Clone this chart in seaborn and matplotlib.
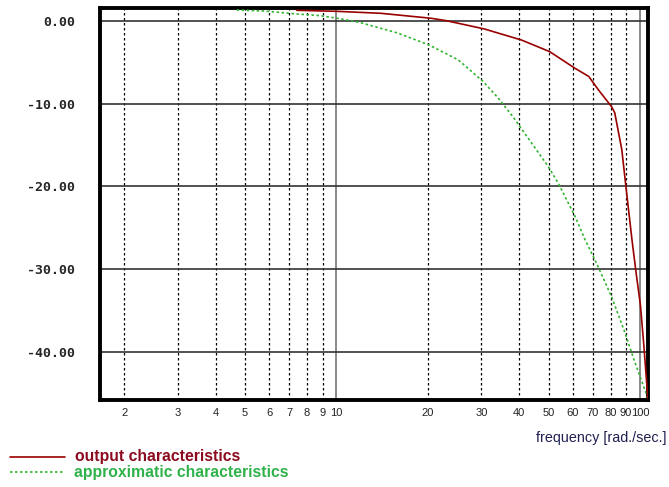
import numpy as np
import pandas as pd
import matplotlib
matplotlib.use("Agg")
import matplotlib.pyplot as plt
from matplotlib.lines import Line2D
from matplotlib.ticker import FixedLocator, FixedFormatter, NullLocator
import seaborn as sns

# Frequency response samples [rad/s] and gain [dB]
output_freq = [7.4, 10.0, 14.0, 20.5, 23.0, 30.7, 40.7, 50.4, 61.0, 67.8, 72.9,
               80.8, 82.6, 87.1, 89.9, 94.1, 97.1, 100.4, 103.0, 106.2]
output_db = [1.29, 1.17, 0.93, 0.33, 0.04, -0.96, -2.3, -3.7, -5.7, -6.7, -8.3,
             -10.4, -11.1, -15.5, -20.0, -26.4, -30.4, -34.4, -39.2, -45.6]

approx_freq = [4.69, 5.82, 7.21, 8.01, 8.85, 10.05, 10.85, 12.0, 15.9, 20.2, 25.2,
               30.4, 34.1, 38.2, 49.9, 53.8, 61.1, 65.9, 72.2, 80.8, 89.1, 95.3, 106.2]
approx_db = [1.33, 1.2, 0.88, 0.76, 0.64, 0.33, 0.12, -0.2, -1.45, -2.9, -4.7,
             -7.3, -9.3, -11.6, -17.6, -19.6, -23.6, -26.4, -29.4, -33.4, -37.6, -40.8, -45.6]

y_ticks = [0, -10, -20, -30, -40]
y_tick_labels = ["0.00", "-10.00", "-20.00", "-30.00", "-40.00"]
x_ticks = [2, 3, 4, 5, 6, 7, 8, 9, 10, 20, 30, 40, 50, 60, 70, 80, 90, 100]
x_tick_labels = [str(v) for v in x_ticks]

series_labels = ["output characteristics", "approximatic characteristics"]
red = "#990000"
green = "#33b533"

sns.set_style("white")
plt.rcParams["font.family"] = ["Liberation Sans", "DejaVu Sans"]

W, H = 669, 487
fig = plt.figure(figsize=(W / 100, H / 100), dpi=100)
ax = fig.add_axes([100 / W, 1 - 400 / H, 548 / W, 392 / H])

df_out = pd.DataFrame({"freq": output_freq, "db": output_db})
df_apx = pd.DataFrame({"freq": approx_freq, "db": approx_db})

ax.set_xscale("log")
ax.set_xlim(1.663, 106.3)
ax.set_ylim(-45.8, 1.57)

# grid: dotted for intermediate frequencies, solid for decades and dB levels
for f in x_ticks:
    if f in (10, 100):
        ax.axvline(f, color="#777777", lw=1.2, zorder=1)
    else:
        ax.axvline(f, color="black", lw=0.9, ls=(0, (2, 2)), zorder=1)
for v in y_ticks:
    ax.axhline(v, color="#333333", lw=1.2, zorder=1)

sns.lineplot(data=df_apx, x="freq", y="db", ax=ax, color=green, lw=1.2,
             linestyle=(0, (1.5, 1.5)), sort=False, estimator=None, zorder=3)
sns.lineplot(data=df_out, x="freq", y="db", ax=ax, color=red, lw=1.2,
             sort=False, estimator=None, zorder=4)

ax.xaxis.set_major_locator(FixedLocator(x_ticks))
ax.xaxis.set_major_formatter(FixedFormatter(x_tick_labels))
ax.xaxis.set_minor_locator(NullLocator())
ax.yaxis.set_major_locator(FixedLocator(y_ticks))
ax.yaxis.set_major_formatter(FixedFormatter(y_tick_labels))
ax.tick_params(axis="x", length=0, pad=6, labelsize=8, labelcolor="#222222")
ax.tick_params(axis="y", length=0, pad=18, labelsize=9.5)
for lab in ax.get_yticklabels():
    lab.set_fontfamily("DejaVu Sans Mono")
    lab.set_fontweight("bold")
ax.set_xlabel("")
ax.set_ylabel("")

for s in ax.spines.values():
    s.set_visible(True)
    s.set_color("black")
    s.set_linewidth(2.8)

fig.text(667 / W, 1 - 438 / H, "frequency [rad./sec.]", ha="right", va="center",
         fontsize=10.4, color="#1f2050")

# legend below the plot
fig.add_artist(Line2D([10 / W, 65 / W], [1 - 457 / H] * 2, color=red, lw=1.2))
fig.add_artist(Line2D([10 / W, 65 / W], [1 - 472 / H] * 2, color=green, lw=1.2,
                      ls=(0, (1.5, 1.5))))
fig.text(75 / W, 1 - 456 / H, series_labels[0], ha="left", va="center",
         fontsize=11.3, fontweight="bold", color="#8b0a1e")
fig.text(74 / W, 1 - 472 / H, series_labels[1], ha="left", va="center",
         fontsize=11.3, fontweight="bold", color="#2fb24a")

fig.savefig("out.png", dpi=100)
